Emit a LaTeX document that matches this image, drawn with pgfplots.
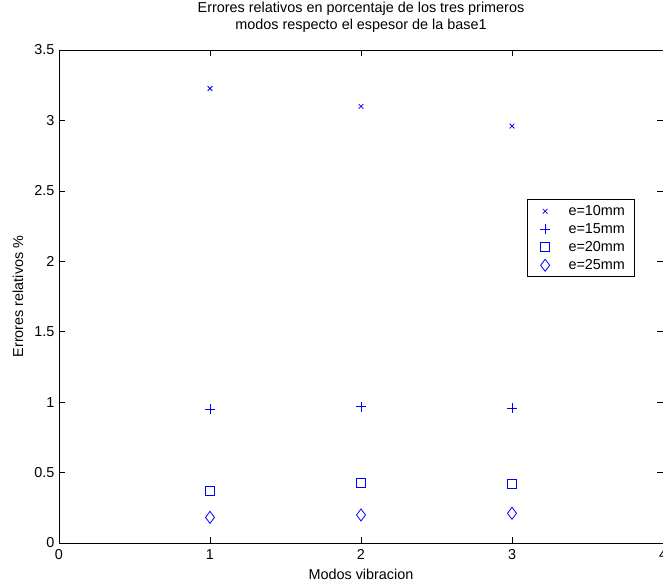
\documentclass[border=0pt]{standalone}
\usepackage{fontspec}
\setmainfont{Liberation Sans}
\usepackage{pgfplots}
\pgfplotsset{compat=1.18}
\begin{document}
\begin{tikzpicture}
\begin{axis}[
  scale only axis,
  width=453pt, height=369.75pt,
  xmin=0, xmax=4, ymin=0, ymax=3.5,
  xtick={0,1,2,3,4},
  ytick={0,0.5,1,1.5,2,2.5,3,3.5},
  /pgf/number format/assume math mode=true,
  tick align=inside,
  major tick length=4.5pt,
  tick style={black, line width=0.5pt},
  axis line style={black, line width=0.5pt},
  ticklabel style={font=\fontsize{10.8}{13}\selectfont},
  xticklabel style={yshift=-1.5pt},
  title={Errores relativos en porcentaje de los tres primeros\\modos respecto el espesor de la base1},
  title style={font=\fontsize{10.8}{12.75}\selectfont, align=center,
    at={(axis description cs:0.5,1.0498)}, anchor=center},
  xlabel={Modos vibracion},
  xlabel style={font=\fontsize{10.8}{13}\selectfont,
    at={(axis description cs:0.5,-0.0629)}, anchor=center},
  ylabel={Errores relativos \%},
  ylabel style={font=\fontsize{10.8}{13}\selectfont,
    at={(axis description cs:-0.0679,0.5)}, anchor=center},
  legend cell align=left,
  legend image code/.code={%
    \path[draw=none, fill=none] (0pt,-1pt) rectangle (17pt,1pt);
    \draw[#1] plot coordinates {(8.5pt,0pt)};},
  legend style={at={(0.774,0.697)}, anchor=north west, draw=black,
    line width=0.5pt, fill=white,
    font=\fontsize{10.8}{13}\selectfont,
    inner xsep=5.25pt, inner ysep=1.9pt, row sep=0pt, column sep=7pt,
    nodes={inner sep=2pt, minimum height=13.5pt}},
]
\addplot[only marks, blue, line width=0.6pt, mark=x, mark size=2.5pt, mark options={blue}] coordinates {(1,3.227) (2,3.10) (3,2.96)};
\addlegendentry{e=10mm}
\addplot[only marks, blue, line width=0.6pt, mark=+, mark size=3.75pt, mark options={blue}] coordinates {(1,0.949) (2,0.967) (3,0.958)};
\addlegendentry{e=15mm}
\addplot[only marks, blue, line width=0.6pt, mark=square, mark size=3.4pt, mark options={blue}] coordinates {(1,0.371) (2,0.426) (3,0.419)};
\addlegendentry{e=20mm}
\addplot[only marks, blue, line width=0.6pt, mark=diamond, mark size=4.5pt, mark options={blue}] coordinates {(1,0.182) (2,0.199) (3,0.211)};
\addlegendentry{e=25mm}
\coordinate (sw) at (rel axis cs:0,0);
\coordinate (ne) at (rel axis cs:1,1);
\end{axis}
\pgfresetboundingbox
\useasboundingbox ([xshift=-44.25pt,yshift=-32.25pt]sw) rectangle ([yshift=37.5pt]ne);
\end{tikzpicture}
\end{document}
